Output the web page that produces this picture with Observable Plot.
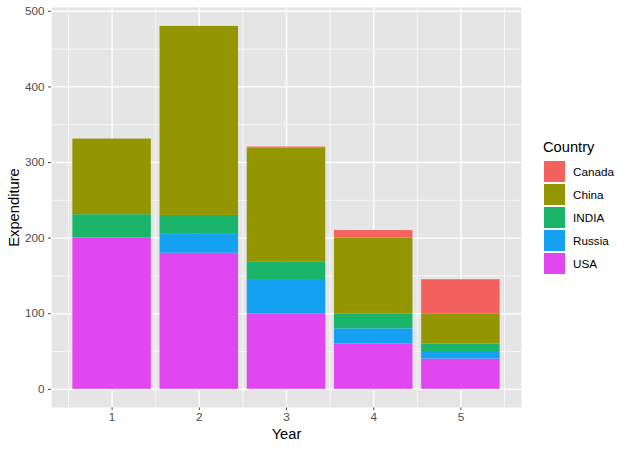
<!DOCTYPE html>
<html><head><meta charset="utf-8">
<script src="https://cdn.jsdelivr.net/npm/d3@7"></script>
<script src="https://cdn.jsdelivr.net/npm/@observablehq/plot@0.6"></script>
<style>body{margin:0;background:#fff;}</style>
</head><body><div id="chart"></div>
<script>
// ---- data ----
const years = [1, 2, 3, 4, 5];
const countries = ["Canada", "China", "INDIA", "Russia", "USA"];
const stackOrder = ["USA", "Russia", "INDIA", "China", "Canada"];
const USA    = [200, 180, 100, 60, 40];
const Russia = [0, 25, 44, 20, 10];
const INDIA  = [31, 25, 24, 20, 10];
const China  = [100, 250, 151, 100, 40];
const Canada = [0, 0, 1.5, 10, 45];
const countryColors = ["#F4625E", "#939600", "#1AB56B", "#15A1F2", "#E047F0"];
const yTicks = [0, 100, 200, 300, 400, 500];
const yMinor = [50, 150, 250, 350, 450];
const xTicks = years;
const xMinor = [0.5, 1.5, 2.5, 3.5, 4.5, 5.5];

const series = {USA, Russia, INDIA, China, Canada};
const rows = [];
years.forEach((yr, i) => {
  let base = 0;
  for (const c of stackOrder) {
    const v = series[c][i];
    rows.push({year: yr, country: c, value: v, y1: base, y2: base + v});
    base += v;
  }
});

const plot = Plot.plot({
  width: 629,
  height: 449,
  marginLeft: 51,
  marginRight: 108,
  marginTop: 7,
  marginBottom: 42,
  style: {fontFamily: "'Liberation Sans', Arial, sans-serif", fontSize: "11.7px", color: "#4D4D4D", background: "white"},
  x: {domain: [0.305, 5.695], ticks: xTicks, tickFormat: d3.format("d"), tickSize: 3, tickPadding: 2, label: null},
  y: {domain: [-24.05, 505.05], ticks: yTicks, tickSize: 3, tickPadding: 4, label: null},
  color: {domain: countries, range: countryColors},
  marks: [
    Plot.frame({fill: "#E5E5E5", stroke: "none"}),
    Plot.ruleY(yMinor, {stroke: "white", strokeWidth: 0.7}),
    Plot.ruleX(xMinor, {stroke: "white", strokeWidth: 0.7}),
    Plot.ruleY(yTicks, {stroke: "white", strokeWidth: 1.4}),
    Plot.ruleX(xTicks, {stroke: "white", strokeWidth: 1.4}),
    Plot.rect(rows, {x1: d => d.year - 0.45, x2: d => d.year + 0.45, y1: "y1", y2: "y2", fill: "country"}),
    Plot.text(["Year"], {text: d => d, frameAnchor: "bottom", lineAnchor: "middle", dy: 27, fontSize: 14.7, fill: "black"}),
    Plot.text(["Expenditure"], {text: d => d, frameAnchor: "left", lineAnchor: "middle", textAnchor: "middle", dx: -37, rotate: -90, fontSize: 14.7, fill: "black"})
  ]
});

// legend
const color = plot.scale("color");
const svg = d3.select(plot);
const lg = svg.append("g").attr("font-family", "'Liberation Sans', Arial, sans-serif").attr("text-anchor", "start");
lg.append("text").attr("x", 543).attr("y", 152).attr("text-anchor", "start").attr("fill", "black").style("font-size", "14.7px").text("Country");
countries.forEach((c, i) => {
  const y0 = 161 + 23 * i;
  lg.append("rect").attr("x", 544).attr("y", y0).attr("width", 21).attr("height", 21).attr("fill", color.apply(c));
  lg.append("text").attr("x", 573).attr("y", y0 + 10.5).attr("dy", "0.35em").attr("text-anchor", "start").attr("fill", "black").style("font-size", "11.7px").text(c);
});

document.getElementById("chart").appendChild(plot);
</script>
</body></html>
